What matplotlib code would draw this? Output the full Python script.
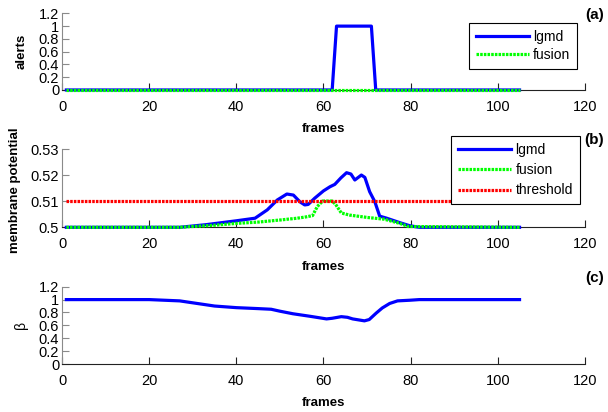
import matplotlib
matplotlib.use("Agg")
import matplotlib.pyplot as plt

# ---------------- data ----------------
alert_lgmd_frames = [1, 62, 63, 71, 72, 105]
alert_lgmd_vals = [0, 0, 1, 1, 0, 0]
alert_fusion_frames = [1, 105]
alert_fusion_vals = [0, 0]

mp_lgmd_frames = [1, 27, 33, 40, 44.3, 47.1, 49.4, 51.6, 53.1, 54.6, 55.7, 56.5, 58, 60, 61.5,
                  62.6, 64, 65.3, 66.3, 67.2, 68.7, 69.5, 70.6, 71.8, 72.9, 74.5, 77.5, 79.8, 82, 105]
mp_lgmd_vals = [0.5, 0.5, 0.501, 0.5025, 0.5035, 0.5067, 0.5105, 0.5128, 0.5124, 0.5098, 0.5086,
                0.5088, 0.5112, 0.514, 0.5156, 0.5165, 0.519, 0.521, 0.5205, 0.5182, 0.5201,
                0.5192, 0.5137, 0.5098, 0.5043, 0.5035, 0.5018, 0.5006, 0.5, 0.5]

mp_fusion_frames = [1, 27, 35, 40, 45, 50, 54, 56, 57.5, 58.6, 59.8, 62, 62.8, 64.1, 66, 70, 74,
                    77.5, 79.5, 105]
mp_fusion_vals = [0.5, 0.5, 0.5008, 0.5015, 0.502, 0.5028, 0.5035, 0.504, 0.5045, 0.508, 0.5101,
                  0.5101, 0.5088, 0.5055, 0.5047, 0.5038, 0.5031, 0.5015, 0.5003, 0.5]

threshold_frames = [1, 105]
threshold_vals = [0.51, 0.51]

beta_frames = [1, 20, 27, 30, 35, 40, 45, 48, 50, 53, 57, 60.7, 62, 64.1, 65.5, 66.7, 69.4,
               70.5, 72.1, 73.5, 75.2, 77, 79.8, 82, 105]
beta_vals = [1.0, 1.0, 0.98, 0.95, 0.90, 0.875, 0.86, 0.85, 0.82, 0.78, 0.74, 0.70, 0.71,
             0.735, 0.725, 0.70, 0.67, 0.69, 0.79, 0.87, 0.94, 0.98, 0.99, 1.0, 1.0]

x_ticks = [0, 20, 40, 60, 80, 100, 120]
alert_ticks = [0, 0.2, 0.4, 0.6, 0.8, 1, 1.2]
alert_ticklabels = ["0", "0.2", "0.4", "0.6", "0.8", "1", "1.2"]
mp_ticks = [0.5, 0.51, 0.52, 0.53]
mp_ticklabels = ["0.5", "0.51", "0.52", "0.53"]
beta_ticks = alert_ticks
beta_ticklabels = alert_ticklabels

# ---------------- style ----------------
plt.rcParams['font.family'] = ['Liberation Sans', 'DejaVu Sans']
BLUE = (0, 0, 1)
GREEN = (0, 1, 0)
RED = (1, 0, 0)
DOT = (0, (0.8, 0.35))

fig = plt.figure(figsize=(6.08, 4.12), dpi=100)
L, W = 0.102, 0.860
ax1 = fig.add_axes([L, 0.7816, W, 0.186])
ax2 = fig.add_axes([L, 0.4483, W, 0.1893])
ax3 = fig.add_axes([L, 0.1165, W, 0.1876])


def style(ax, yticks, ylabels, ylim):
    ax.set_xlim(0, 120)
    ax.set_ylim(*ylim)
    ax.set_xticks(x_ticks)
    ax.set_xticklabels([str(t) for t in x_ticks])
    ax.set_yticks(yticks)
    ax.set_yticklabels(ylabels)
    ax.spines['top'].set_visible(False)
    ax.spines['right'].set_visible(False)
    ax.spines['left'].set_color('#8a8a8a')
    ax.spines['bottom'].set_color('#222222')
    ax.tick_params(axis='x', direction='in', length=5, width=0.8, color='#222222',
                   labelsize=10.5, pad=7)
    ax.tick_params(axis='y', direction='in', length=5, width=0.8, color='#8a8a8a',
                   labelsize=10.5, pad=2)
    ax.set_xlabel('frames', fontsize=9.5, fontweight='bold', labelpad=7)
    ax.patch.set_visible(False)


# (a)
ax1.plot(alert_lgmd_frames, alert_lgmd_vals, color=BLUE, lw=2.3, label='lgmd', clip_on=False,
         zorder=3)
ax1.plot(alert_fusion_frames, alert_fusion_vals, color=GREEN, lw=2.3, ls=DOT, label='fusion',
         clip_on=False, zorder=3.1)
style(ax1, alert_ticks, alert_ticklabels, (0, 1.2))
ax1.set_ylabel('alerts', fontsize=9.5, fontweight='bold')
ax1.yaxis.set_label_coords(-0.066, 0.5)
leg1 = ax1.legend(loc='upper right', bbox_to_anchor=(0.985, 0.873), fontsize=10,
                  handlelength=3.8, handletextpad=0.3, borderpad=0.5, labelspacing=0.3,
                  fancybox=False, framealpha=1, edgecolor='black', borderaxespad=0)
leg1.get_frame().set_linewidth(0.8)
leg1.set_zorder(5)

# (b)
ax2.plot(mp_lgmd_frames, mp_lgmd_vals, color=BLUE, lw=2.3, label='lgmd', clip_on=False,
         zorder=3)
ax2.plot(mp_fusion_frames, mp_fusion_vals, color=GREEN, lw=2.3, ls=DOT, label='fusion',
         clip_on=False, zorder=3.1)
ax2.plot(threshold_frames, threshold_vals, color=RED, lw=2.3, ls=DOT, label='threshold',
         clip_on=False, zorder=3.2)
style(ax2, mp_ticks, mp_ticklabels, (0.5, 0.53))
ax2.set_ylabel('membrane potential', fontsize=9.5, fontweight='bold')
ax2.yaxis.set_label_coords(-0.079, 0.48)
leg2 = ax2.legend(loc='upper right', bbox_to_anchor=(0.99, 1.17), fontsize=10,
                  handlelength=3.8, handletextpad=0.3, borderpad=0.5, labelspacing=0.45,
                  fancybox=False, framealpha=1, edgecolor='black', borderaxespad=0)
leg2.get_frame().set_linewidth(0.8)
leg2.set_zorder(5)

# (c)
ax3.plot(beta_frames, beta_vals, color=BLUE, lw=2.3, clip_on=False, zorder=3)
style(ax3, beta_ticks, beta_ticklabels, (0, 1.2))
ax3.set_ylabel('β', fontsize=10)
ax3.yaxis.set_label_coords(-0.066, 0.5)

for y, t in [(0.963, '(a)'), (0.66, '(b)'), (0.325, '(c)')]:
    fig.text(0.993, y, t, ha='right', va='center', fontsize=11, fontweight='bold')

fig.savefig('out.png', dpi=100)
